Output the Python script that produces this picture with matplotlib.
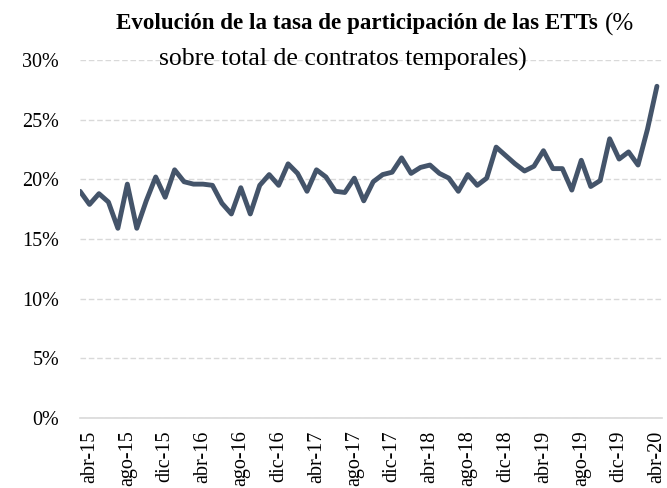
import numpy as np
import matplotlib
matplotlib.use("Agg")
import matplotlib.pyplot as plt
from matplotlib.ticker import PercentFormatter

# Tasa de participación de las ETTs, mensual (mar-15 .. abr-20), en %
tasa_ett = [
    19.0, 17.9, 18.8, 18.1, 15.9, 19.6, 15.9, 18.2, 20.2, 18.5,
    20.8, 19.8, 19.6, 19.6, 19.5, 18.0, 17.1, 19.3, 17.1, 19.5,
    20.4, 19.5, 21.3, 20.5, 19.0, 20.8, 20.2, 19.0, 18.9, 20.1,
    18.2, 19.8, 20.4, 20.6, 21.8, 20.5, 21.0, 21.2, 20.5, 20.1,
    19.0, 20.4, 19.5, 20.1, 22.7, 22.0, 21.3, 20.7, 21.1, 22.4,
    20.9, 20.9, 19.1, 21.6, 19.4, 19.9, 23.4, 21.7, 22.3, 21.2,
    24.2, 27.8,
]
etiquetas = ["abr-15", "ago-15", "dic-15", "abr-16", "ago-16", "dic-16",
             "abr-17", "ago-17", "dic-17", "abr-18", "ago-18", "dic-18",
             "abr-19", "ago-19", "dic-19", "abr-20"]
# primera etiqueta en el segundo mes (abr-15), luego cada 4 meses
pos_etiquetas = list(range(1, len(tasa_ett), 4))

plt.rcParams["font.family"] = ["Liberation Serif", "DejaVu Serif"]

fig = plt.figure(figsize=(6.67, 4.88), dpi=100)
ax = fig.add_axes([0.12, 0.1434, 0.872, 0.7336])

x = np.arange(len(tasa_ett))
ax.plot(x, np.array(tasa_ett) / 100, color="#44546A", lw=3.5,
        solid_joinstyle="round", solid_capstyle="round", zorder=3)

ax.set_xlim(0, 61.5)
ax.set_ylim(0, 0.30)
ax.set_yticks(np.arange(0, 0.301, 0.05))
ax.yaxis.set_major_formatter(PercentFormatter(1.0, decimals=0))
ax.set_xticks(pos_etiquetas)
ax.set_xticklabels(etiquetas, rotation=90)
ax.tick_params(axis="both", length=0, labelsize=14.5, colors="black")
ax.tick_params(axis="y", pad=15)
ax.tick_params(axis="x", pad=9)

ax.grid(axis="y", color="#D9D9D9", ls=(0, (4, 2)), lw=1)
ax.set_axisbelow(True)
for s in ["top", "right", "left"]:
    ax.spines[s].set_visible(False)
ax.spines["bottom"].set_color("#D9D9D9")
ax.spines["bottom"].set_linewidth(1.2)

# Título: parte en negrita + parte normal
t1 = fig.text(116 / 667, 1 - 24 / 488, "Evolución de la tasa de participación de las ETTs",
              fontsize=16.6, fontweight="bold", ha="left", va="center")
fig.canvas.draw()
bb = t1.get_window_extent(renderer=fig.canvas.get_renderer())
fig.text(bb.x1 / fig.bbox.width + 0.010, 1 - 24 / 488, "(%",
         fontsize=18, ha="left", va="center")
fig.text(343 / 667, 1 - 59 / 488, "sobre total de contratos temporales)",
         fontsize=18.5, ha="center", va="center")

fig.savefig("out.png", dpi=100)
